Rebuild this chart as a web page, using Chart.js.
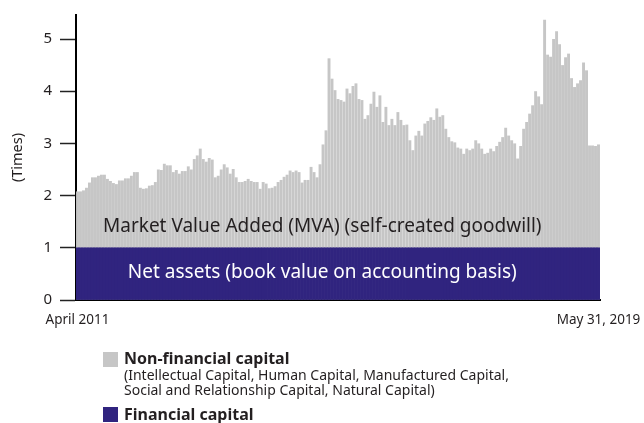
<!DOCTYPE html>
<html><head><meta charset="utf-8">
<script src="https://cdn.jsdelivr.net/npm/chart.js@4/dist/chart.umd.min.js"></script>
<style>
html,body{margin:0;padding:0;background:#fff;}
#wrap{position:relative;width:644px;height:423px;font-family:"Noto Sans",sans-serif;color:#231f20;overflow:hidden;}
#c{position:absolute;left:0;top:0;}
.sw{position:absolute;left:103px;width:15px;height:15px;}
.lt{position:absolute;left:124px;white-space:nowrap;}
.b{font-weight:bold;font-size:16px;line-height:18px;}
.s{font-size:14px;line-height:15px;}
</style></head>
<body><div id="wrap"><canvas id="c" width="644" height="423"></canvas>
<div class="sw" style="top:352px;background:#c6c6c6"></div>
<div class="lt b" style="top:349px">Non-financial capital</div>
<div class="lt s" style="top:367px">(Intellectual Capital, Human Capital, Manufactured Capital,<br>Social and Relationship Capital, Natural Capital)</div>
<div class="sw" style="top:407px;background:#30247f"></div>
<div class="lt b" style="top:405px">Financial capital</div>
</div>
<script>
// Market value / net assets (times), weekly-ish samples April 2011 – May 31, 2019
const totalTimes = [
2.08,2.08,2.10,2.15,2.25,2.35,2.35,2.38,2.40,2.40,
2.32,2.28,2.24,2.22,2.29,2.29,2.33,2.33,2.38,2.45,
2.45,2.15,2.13,2.14,2.19,2.20,2.26,2.50,2.49,2.61,
2.58,2.58,2.45,2.49,2.42,2.47,2.47,2.56,2.50,2.70,
2.77,2.90,2.70,2.65,2.72,2.69,2.35,2.38,2.50,2.60,
2.54,2.42,2.51,2.35,2.26,2.26,2.28,2.32,2.28,2.26,
2.26,2.13,2.26,2.23,2.14,2.15,2.18,2.26,2.30,2.36,
2.40,2.48,2.45,2.48,2.45,2.25,2.30,2.30,2.55,2.45,
2.35,2.60,2.98,3.25,4.63,4.24,4.02,3.85,3.83,3.80,
4.05,3.96,4.10,4.15,3.85,3.83,3.47,3.54,3.76,3.99,
3.70,3.92,3.41,3.70,3.35,3.47,3.35,3.60,3.45,3.35,
3.36,3.06,2.87,3.15,3.24,3.15,3.38,3.43,3.50,3.45,
3.67,3.51,3.54,3.28,3.12,3.04,3.02,2.92,2.90,2.80,
2.90,2.87,2.90,3.06,3.00,2.90,2.80,2.82,2.90,2.85,
2.95,3.03,3.12,3.30,3.15,3.06,3.00,2.71,2.95,3.28,
3.41,3.57,3.73,4.00,3.90,3.75,5.37,4.70,4.66,5.00,
5.15,4.90,4.50,4.65,4.72,4.25,4.08,4.15,4.21,4.55,
4.40,2.96,2.96,2.95,2.98
];
// Net assets normalised to 1 time (book value)
const financialCapital = totalTimes.map(() => 1);
const categories = totalTimes.map((_, i) => i);
const xTickLabels = { 0: 'April 2011', [totalTimes.length - 1]: 'May 31, 2019' };
const yTicks = [0, 1, 2, 3, 4, 5];
const seriesNames = ['Financial capital', 'Non-financial capital'];
const bandLabels = ['Market Value Added (MVA) (self-created goodwill)', 'Net assets (book value on accounting basis)'];

const FONT = '"Noto Sans", sans-serif';
const TXT = '#231f20';

const bandText = {
  id: 'bandText',
  afterDatasetsDraw(chart) {
    const { ctx, chartArea, scales: { y } } = chart;
    const cx = chartArea.left + (chartArea.right - chartArea.left) * 0.47;
    ctx.save();
    ctx.textAlign = 'center';
    ctx.textBaseline = 'middle';
    ctx.font = '19px ' + FONT;
    ctx.fillStyle = TXT;
    ctx.fillText(bandLabels[0], cx, y.getPixelForValue(1.41));
    ctx.fillStyle = '#ffffff';
    ctx.fillText(bandLabels[1], cx, y.getPixelForValue(0.52));
    ctx.restore();
  }
};

new Chart(document.getElementById('c'), {
  type: 'bar',
  data: {
    labels: categories,
    datasets: [
      { label: seriesNames[0], data: financialCapital, backgroundColor: '#30247f', order: 0, barPercentage: 1 },
      { label: seriesNames[1], data: totalTimes, backgroundColor: '#c6c6c6', order: 1, barPercentage: 0.97 }
    ]
  },
  options: {
    responsive: false,
    animation: false,
    events: [],
    datasets: { bar: { grouped: false, categoryPercentage: 1, borderWidth: 0 } },
    layout: { padding: { left: 9, right: 44, top: 15, bottom: 0 } },
    plugins: { legend: { display: false }, tooltip: { enabled: false } },
    scales: {
      x: {
        type: 'category',
        grid: { display: false, drawTicks: false },
        border: { display: true, color: '#000', width: 2 },
        ticks: {
          autoSkip: false, maxRotation: 0, minRotation: 0, padding: 12,
          color: TXT, font: { family: FONT, size: 13.5 },
          callback: (v, i) => xTickLabels[i] || ''
        },
        afterFit: s => { s.height = 123; s.paddingLeft = 0; s.paddingRight = 0; }
      },
      y: {
        min: 0, max: 5.46,
        grid: { display: true, drawOnChartArea: false, drawTicks: true, tickLength: 16, tickColor: '#222', tickWidth: 1.5 },
        border: { display: true, color: '#000', width: 2 },
        ticks: { stepSize: 1, padding: 8, color: TXT, font: { family: FONT, size: 15 } },
        afterBuildTicks: s => { s.ticks = yTicks.map(v => ({ value: v })); },
        title: { display: true, text: '(Times)', color: TXT, font: { family: FONT, size: 14.5 }, padding: 0 },
        afterFit: s => { s.width = 67; s.paddingTop = 0; s.paddingBottom = 0; }
      }
    }
  },
  plugins: [bandText]
});
</script>
</body></html>
